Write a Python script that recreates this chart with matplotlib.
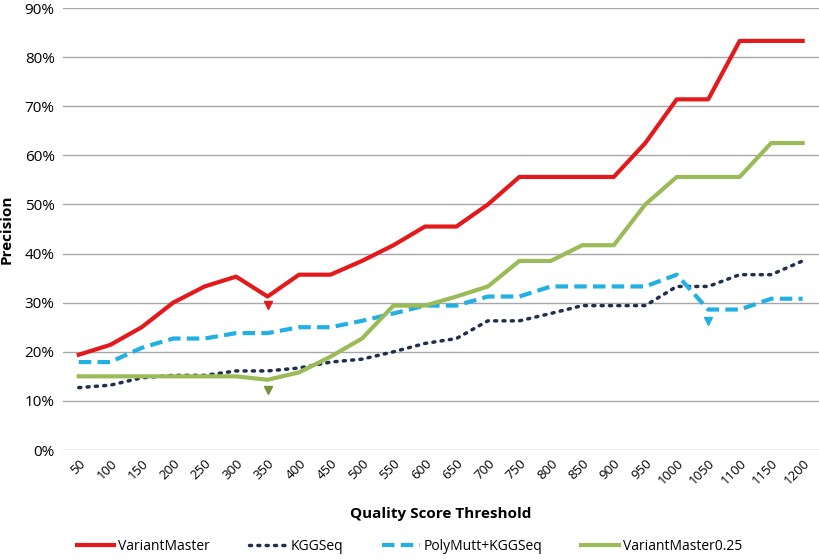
import matplotlib
matplotlib.use("Agg")
import matplotlib.pyplot as plt
import numpy as np

plt.rcParams['font.family'] = ['Open Sans', 'DejaVu Sans']

thresholds = [50, 100, 150, 200, 250, 300, 350, 400, 450, 500, 550, 600,
              650, 700, 750, 800, 850, 900, 950, 1000, 1050, 1100, 1150, 1200]

variant_master = [19.4, 21.4, 25.0, 30.0, 33.3, 35.3, 31.25, 35.7, 35.7, 38.5, 41.7, 45.5,
                  45.5, 50.0, 55.6, 55.6, 55.6, 55.6, 62.5, 71.4, 71.4, 83.3, 83.3, 83.3]
kggseq = [12.7, 13.2, 14.7, 15.2, 15.2, 16.1, 16.1, 16.7, 17.9, 18.5, 20.0, 21.7,
          22.7, 26.3, 26.3, 27.8, 29.4, 29.4, 29.4, 33.3, 33.3, 35.7, 35.7, 38.5]
polymutt = [17.9, 17.9, 20.8, 22.7, 22.7, 23.8, 23.8, 25.0, 25.0, 26.3, 27.8, 29.4,
            29.4, 31.25, 31.25, 33.3, 33.3, 33.3, 33.3, 35.7, 28.6, 28.6, 30.8, 30.8]
variant_master_025 = [15.0, 15.0, 15.0, 15.0, 15.0, 15.0, 14.3, 15.8, 19.0, 22.7, 29.4, 29.4,
                      31.25, 33.3, 38.5, 38.5, 41.7, 41.7, 50.0, 55.6, 55.6, 55.6, 62.5, 62.5]

# small triangle annotations under some points
red_mark = (350, 29.6)
green_mark = (350, 12.2)
blue_mark = (1050, 26.3)

fig = plt.figure(figsize=(8.19, 5.6), dpi=100)
ax = fig.add_axes([63/819, 1 - 450/560, 756/819, 442/560])

x = np.arange(len(thresholds))
ax.plot(x, variant_master, color='#E3191C', lw=3, label='VariantMaster', zorder=3)
ax.plot(x, kggseq, color='#1F2F4F', lw=2.5, ls=(0, (0.6, 1.8)), dash_capstyle='round',
        label='KGGSeq', zorder=3)
ax.plot(x, polymutt, color='#22B0E4', lw=3, ls=(0, (3, 1.5)), label='PolyMutt+KGGSeq', zorder=3)
ax.plot(x, variant_master_025, color='#9BBB59', lw=3, label='VariantMaster0.25', zorder=3)

ax.plot(thresholds.index(red_mark[0]), red_mark[1], 'v', color='#E3191C', ms=6, zorder=4)
ax.plot(thresholds.index(green_mark[0]), green_mark[1], 'v', color='#77933C', ms=6, zorder=4)
ax.plot(thresholds.index(blue_mark[0]), blue_mark[1], 'v', color='#22B0E4', ms=6, zorder=4)

ax.set_xlim(-0.5, len(thresholds) - 0.5 + 0.02)
ax.set_ylim(0, 90)
ax.set_yticks(range(0, 91, 10))
ax.set_yticklabels([f'{v}%' for v in range(0, 91, 10)], fontsize=11)
ax.set_xticks(x)
ax.set_xticklabels([str(t) for t in thresholds], rotation=45, ha='right',
                   rotation_mode='anchor', fontsize=9.5)
ax.tick_params(axis='both', length=0, pad=6)
ax.tick_params(axis='x', pad=5)
ax.grid(axis='y', color='#A6A6A6', lw=1)
ax.set_axisbelow(True)
for s in ax.spines.values():
    s.set_visible(False)

ax.set_ylabel('Precision', fontsize=11, fontweight='bold', labelpad=8)
ax.set_xlabel('Quality Score Threshold', fontsize=11, fontweight='bold', labelpad=14)

fig.legend(loc='center', bbox_to_anchor=(0.5, 1 - 546/560), ncol=4, frameon=False,
           fontsize=10, handlelength=2.7, columnspacing=2.8, handletextpad=0.3)

fig.savefig('out.png', dpi=100)
